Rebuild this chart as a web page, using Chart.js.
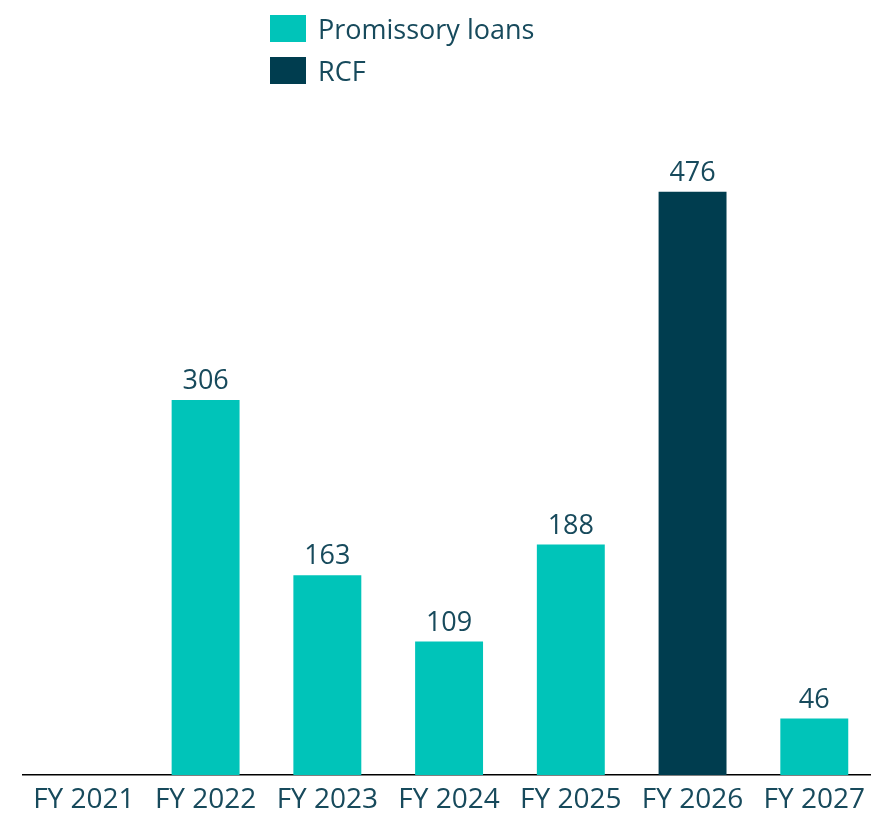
<!DOCTYPE html>
<html>
<head>
<meta charset="utf-8">
<script src="https://cdn.jsdelivr.net/npm/chart.js@4/dist/chart.umd.min.js"></script>
<style>
  html, body { margin: 0; padding: 0; background: #fff; overflow: hidden; }
  #wrap { position: relative; width: 877px; height: 813px; overflow: hidden; }
  #legend { position: absolute; left: 270px; top: 15px; font-family: "Open Sans", sans-serif; font-size: 27px; color: #174a5c; }
  .item { display: flex; align-items: center; height: 27px; margin-bottom: 15px; }
  .swatch { width: 36px; height: 27px; margin-right: 12px; }
</style>
</head>
<body>
<div id="wrap">
  <canvas id="chart" width="877" height="825"></canvas>
  <div id="legend"></div>
</div>
<script>
const categories = ["FY 2021", "FY 2022", "FY 2023", "FY 2024", "FY 2025", "FY 2026", "FY 2027"];
const promissoryLoans = [null, 306, 163, 109, 188, null, 46];
const rcf = [null, null, null, null, null, 476, null];
const seriesNames = ["Promissory loans", "RCF"];
const seriesColors = ["#00c4b9", "#003d4f"];
const TEXT_COLOR = "#174a5c";
const FONT = "'Open Sans', sans-serif";

const valueLabels = {
  id: "valueLabels",
  afterDatasetsDraw(chart) {
    const ctx = chart.ctx;
    ctx.save();
    ctx.fillStyle = TEXT_COLOR;
    ctx.font = "27px " + FONT;
    ctx.textAlign = "center";
    ctx.textBaseline = "bottom";
    chart.data.datasets.forEach((ds, i) => {
      chart.getDatasetMeta(i).data.forEach((bar, j) => {
        const v = ds.data[j];
        if (v === null || v === undefined) return;
        ctx.fillText(String(v), bar.x, bar.y - 5);
      });
    });
    ctx.restore();
  }
};

function buildLegend() {
  const legendEl = document.getElementById("legend");
  seriesNames.forEach((name, i) => {
    const item = document.createElement("div");
    item.className = "item";
    const sw = document.createElement("span");
    sw.className = "swatch";
    sw.style.background = seriesColors[i];
    const label = document.createElement("span");
    label.textContent = name;
    item.appendChild(sw);
    item.appendChild(label);
    legendEl.appendChild(item);
  });
}

buildLegend();

new Chart(document.getElementById("chart"), {
  type: "bar",
  data: {
    labels: categories,
    datasets: [
      { label: seriesNames[0], data: promissoryLoans, backgroundColor: seriesColors[0] },
      { label: seriesNames[1], data: rcf, backgroundColor: seriesColors[1] }
    ]
  },
  options: {
    responsive: false,
    animation: false,
    events: [],
    barPercentage: 0.558,
    categoryPercentage: 1,
    layout: { padding: { left: 23, right: 0, top: 101, bottom: 0 } },
    plugins: { legend: { display: false }, tooltip: { enabled: false } },
    scales: {
      x: {
        stacked: true,
        grid: { display: false, drawTicks: false },
        border: { display: true, color: "#000", width: 1.5 },
        ticks: {
          color: TEXT_COLOR,
          font: { family: FONT, size: 28, lineHeight: 0.93 },
          padding: 12,
          maxRotation: 0,
          autoSkip: false
        }
      },
      y: {
        stacked: true,
        display: false,
        min: 0,
        max: 550
      }
    }
  },
  plugins: [valueLabels]
});
</script>
</body>
</html>
